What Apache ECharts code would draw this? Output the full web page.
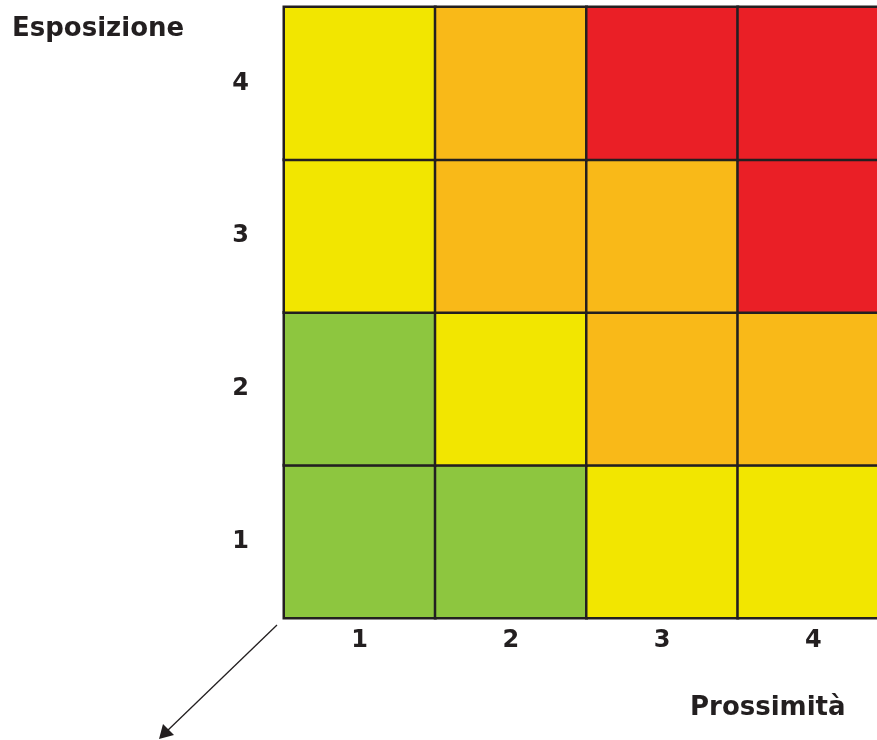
<!DOCTYPE html>
<html>
<head>
<meta charset="utf-8">
<script src="https://cdn.jsdelivr.net/npm/echarts@6/dist/echarts.min.js"></script>
<style>
  html, body { margin: 0; padding: 0; background: #fff; }
  #chart { width: 877px; height: 740px; }
</style>
</head>
<body>
<div id="chart"></div>
<script>
// categorie degli assi
var prossimita = ['1', '2', '3', '4'];
var esposizione = ['1', '2', '3', '4'];
// livello di rischio per riga (esposizione 1..4), colonne prossimita 1..4
// 1 = verde, 2 = giallo, 3 = arancio, 4 = rosso
var livelliEsp1 = [1, 1, 2, 2];
var livelliEsp2 = [1, 2, 3, 3];
var livelliEsp3 = [2, 3, 3, 4];
var livelliEsp4 = [2, 3, 4, 4];
var coloriLivello = ['#8dc63f', '#f2e600', '#f9b918', '#ea1f26'];

var righe = [livelliEsp1, livelliEsp2, livelliEsp3, livelliEsp4];
var data = [];
righe.forEach(function (riga, y) {
  riga.forEach(function (v, x) {
    data.push([x, y, v]);
  });
});

var textCol = '#231f20';
var font = 'DejaVu Sans';

var myChart = echarts.init(document.getElementById('chart'));
var option = {
  animation: false,
  title: [
    {
      text: 'Esposizione',
      left: 7, top: 11,
      textStyle: { fontFamily: font, fontWeight: 'bold', fontSize: 26, color: textCol }
    },
    {
      text: 'Prossimità',
      left: 685, top: 690,
      textStyle: { fontFamily: font, fontWeight: 'bold', fontSize: 26, color: textCol }
    }
  ],
  grid: {
    left: 284,
    width: 605,
    top: 7,
    height: 611,
    outerBoundsMode: 'none'
  },
  xAxis: {
    type: 'category',
    data: prossimita,
    axisLine: { show: false },
    axisTick: { show: false },
    splitLine: { show: false },
    axisLabel: {
      margin: 11,
      fontFamily: font, fontWeight: 'bold', fontSize: 24, color: textCol
    }
  },
  yAxis: {
    type: 'category',
    data: esposizione,
    axisLine: { show: false },
    axisTick: { show: false },
    splitLine: { show: false },
    axisLabel: {
      margin: 35,
      fontFamily: font, fontWeight: 'bold', fontSize: 24, color: textCol
    }
  },
  visualMap: {
    show: false,
    type: 'piecewise',
    dimension: 2,
    pieces: [
      { value: 1, color: coloriLivello[0] },
      { value: 2, color: coloriLivello[1] },
      { value: 3, color: coloriLivello[2] },
      { value: 4, color: coloriLivello[3] }
    ]
  },
  series: [{
    type: 'heatmap',
    data: data,
    itemStyle: { borderColor: textCol, borderWidth: 2.5 },
    emphasis: { disabled: true }
  }],
  graphic: [
    {
      type: 'line',
      shape: { x1: 277, y1: 625, x2: 166, y2: 732 },
      style: { stroke: textCol, lineWidth: 1.3 }
    },
    {
      type: 'polygon',
      shape: { points: [[159, 739], [163, 724], [174, 735]] },
      style: { fill: textCol }
    }
  ]
};
myChart.setOption(option);
</script>
</body>
</html>
